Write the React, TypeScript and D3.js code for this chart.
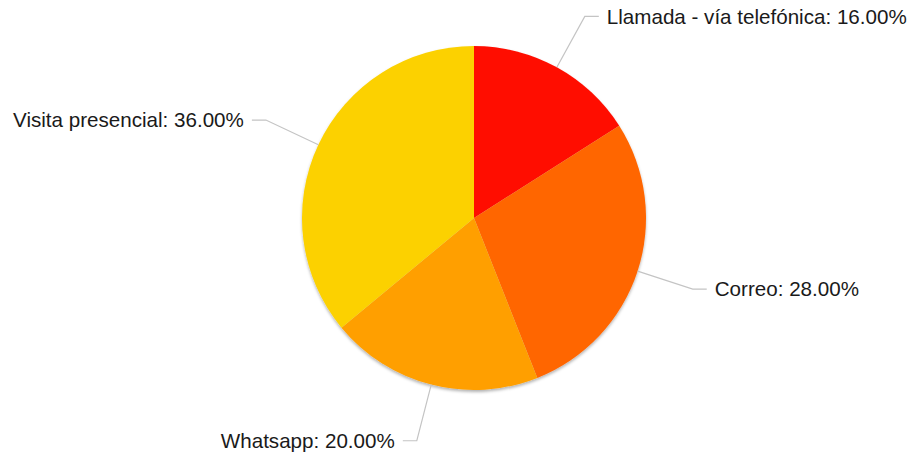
import React from "react";
import * as d3 from "d3";

const categories = ["Llamada - vía telefónica", "Correo", "Whatsapp", "Visita presencial"];
const values = [16, 28, 20, 36];
const colors = ["#FF0D00", "#FF6600", "#FF9F00", "#FCD100"];

const W = 914;
const H = 457;
const cx = 474;
const cy = 218;
const R = 172;

export default function App() {
  const pie = d3.pie<number>().sort(null).value((d) => d)(values);
  const arc = d3.arc<d3.PieArcDatum<number>>().innerRadius(0).outerRadius(R);
  const total = d3.sum(values);
  const fmt = d3.format(".2f");

  return (
    <svg width={W} height={H} style={{ position: "absolute", left: 0, top: 0 }}>
      <defs>
        <filter id="sh" x="-20%" y="-20%" width="140%" height="140%">
          <feDropShadow dx="0" dy="2" stdDeviation="1.5" floodColor="#000" floodOpacity="0.3" />
        </filter>
      </defs>
      <g transform={`translate(${cx},${cy})`}>
        <g filter="url(#sh)">
          {pie.map((p, i) => (
            <path key={i} d={arc(p) || ""} fill={colors[i]} />
          ))}
        </g>
        {pie.map((p, i) => {
          const a = (p.startAngle + p.endAngle) / 2;
          const sx = Math.sin(a) * R;
          const sy = -Math.cos(a) * R;
          const ex = Math.sin(a) * 230;
          const ey = -Math.cos(a) * 230;
          const right = Math.sin(a) >= 0;
          const hx = ex + (right ? 14 : -14);
          const tx = hx + (right ? 8 : -8);
          return (
            <g key={i}>
              <polyline
                points={`${sx},${sy} ${ex},${ey} ${hx},${ey}`}
                fill="none"
                stroke="#c4c4c4"
                strokeWidth={1.2}
              />
              <text
                x={tx}
                y={ey}
                dy="0.35em"
                textAnchor={right ? "start" : "end"}
                fontFamily="Liberation Sans, Arial, sans-serif"
                fontSize={20.6}
                fill="#1a1a1a"
              >
                {`${categories[i]}: ${fmt((values[i] / total) * 100)}%`}
              </text>
            </g>
          );
        })}
      </g>
    </svg>
  );
}
